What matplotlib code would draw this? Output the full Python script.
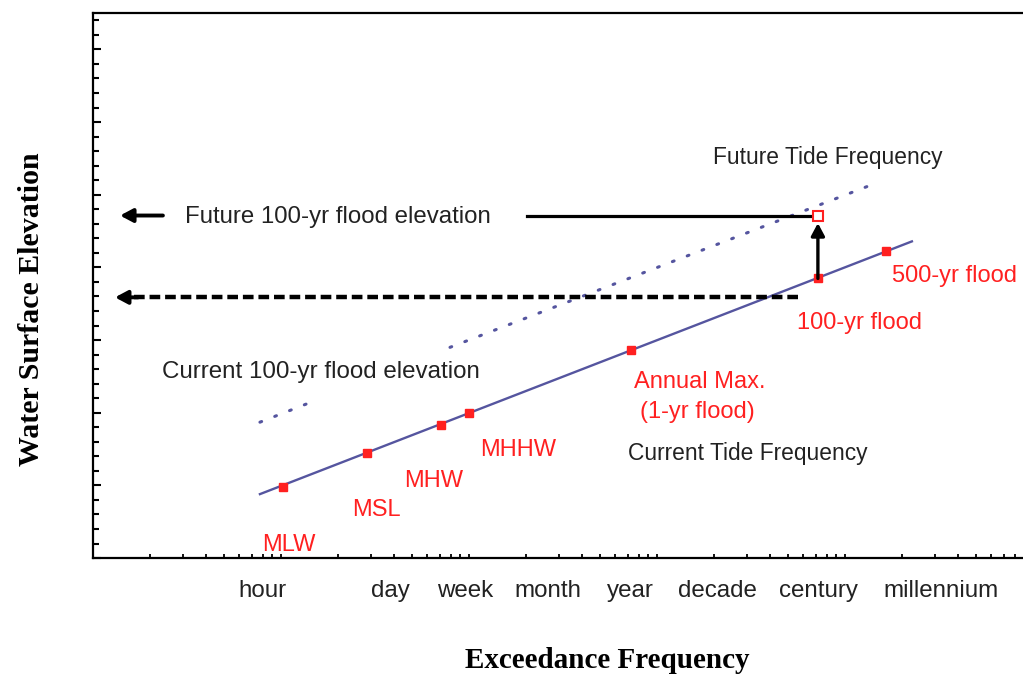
import numpy as np
import matplotlib
matplotlib.use('Agg')
import matplotlib.pyplot as plt
from matplotlib.ticker import FixedLocator, LogLocator, MultipleLocator, NullFormatter

# x values are given as decades (log10 of exceedance period)
periods = ['hour', 'day', 'week', 'month', 'year', 'decade', 'century', 'millennium']
period_logx = [0.90, 1.58, 1.98, 2.42, 2.86, 3.32, 3.86, 4.51]

tide_line_logx = [0.888, 4.356]
tide_line_y = [4.40, 21.79]

future_seg1_logx = [0.888, 1.20]
future_seg1_y = [9.35, 10.93]
future_seg2_logx = [1.899, 4.133]
future_seg2_y = [14.50, 25.64]

point_names = ['MLW', 'MSL', 'MHW', 'MHHW', 'Annual Max.', '100-yr flood', '500-yr flood']
point_logx = [1.011, 1.457, 1.851, 2.0, 2.862, 3.856, 4.218]
point_y = [4.88, 7.22, 9.14, 9.97, 14.30, 19.24, 21.10]

future_100_logx = 3.856
future_100_y = 23.57
current_100_arrow_y = 17.94

red = '#ff2020'
blue = '#55559f'
dark = '#222222'

def X(v):
    return 10 ** np.asarray(v, dtype=float)

fig = plt.figure(figsize=(10.23, 6.74), dpi=100)
ax = fig.add_axes([0.0909, 0.172, 0.9091, 0.8086])
ax.set_xscale('log')
ax.set_xlim(1, 10 ** 4.947)
ax.set_ylim(0, 37.5)

# tide frequency lines
ax.plot(X(tide_line_logx), tide_line_y, color=blue, lw=1.7)
ax.plot(X(future_seg1_logx), future_seg1_y, color=blue, lw=2.2, ls=(0, (0.6, 4.6)),
        dash_capstyle='round')
ax.plot(X(future_seg2_logx), future_seg2_y, color=blue, lw=2.2, ls=(0, (0.6, 4.6)),
        dash_capstyle='round')

ax.plot(X(point_logx), point_y, ls='none', marker='s', ms=6, color=red, mec=red)

# future 100-yr elevation
ax.plot(X([2.309, future_100_logx]), [future_100_y, future_100_y], color='black', lw=2.3)
ax.annotate('', xy=(X(0.144), future_100_y), xytext=(X(0.372), future_100_y),
            arrowprops=dict(arrowstyle='-|>,head_length=0.75,head_width=0.4',
                            color='black', lw=2.8, shrinkA=0, shrinkB=0))
ax.annotate('', xy=(X(future_100_logx), 23.05), xytext=(X(future_100_logx), point_y[5]),
            arrowprops=dict(arrowstyle='-|>,head_length=0.75,head_width=0.4',
                            color='black', lw=2.4, shrinkA=0, shrinkB=0))
ax.plot(X(future_100_logx), future_100_y, ls='none', marker='s', ms=6.5,
        mfc='white', mec=red, mew=1.5)

# current 100-yr elevation (dashed)
ax.plot(X([3.75, 0.21]), [current_100_arrow_y, current_100_arrow_y], color='black',
        lw=3.2, ls=(0, (2.4, 1.1)))
ax.annotate('', xy=(X(0.117), current_100_arrow_y), xytext=(X(0.24), current_100_arrow_y),
            arrowprops=dict(arrowstyle='-|>,head_length=0.75,head_width=0.4',
                            color='black', lw=2.8, shrinkA=0, shrinkB=0))

# text
font = 'Liberation Sans'
ax.text(X(3.298), 27.56, 'Future Tide Frequency', color=dark, fontsize=16.4,
        family=font, va='center')
ax.text(X(0.489), 23.5, 'Future 100-yr flood elevation', color=dark, fontsize=17.3,
        family=font, va='center')
ax.text(X(0.367), 12.78, 'Current 100-yr flood elevation', color=dark, fontsize=17.4,
        family=font, va='center')
ax.text(X(2.846), 7.22, 'Current Tide Frequency', color=dark, fontsize=16.4,
        family=font, va='center')

label_pos = [(0.899, 0.89), (1.378, 3.30), (1.654, 5.29), (2.059, 7.42),
             (2.878, 12.10), (3.745, 16.15), (4.25, 19.38)]
for name, (lx, ly) in zip(point_names, label_pos):
    ax.text(X(lx), ly, name, color=red, fontsize=17, family=font, va='center')
ax.text(X(2.910), 10.03, '(1-yr flood)', color=red, fontsize=17, family=font, va='center')

# axes styling
for s in ['left', 'bottom', 'top']:
    ax.spines[s].set_linewidth(1.6)
ax.spines['right'].set_visible(False)

ax.yaxis.set_major_locator(MultipleLocator(5))
ax.yaxis.set_minor_locator(MultipleLocator(1))
ax.yaxis.set_major_formatter(NullFormatter())
ax.tick_params(axis='y', which='major', direction='in', length=6, width=1.5)
ax.tick_params(axis='y', which='minor', direction='in', length=4, width=1.5)

ax.xaxis.set_major_locator(FixedLocator(X(period_logx)))
ax.set_xticklabels(periods, family=font, fontsize=17.4, color=dark)
ax.xaxis.set_minor_locator(LogLocator(base=10, subs=np.arange(1, 10), numticks=20))
ax.xaxis.set_minor_formatter(NullFormatter())
ax.tick_params(axis='x', which='major', length=0, pad=16)
ax.tick_params(axis='x', which='minor', direction='in', length=3, width=1.3)

ax.set_xlabel('Exceedance Frequency', family='Liberation Serif', fontweight='bold',
              fontsize=21)
ax.xaxis.set_label_coords(0.553, -0.163)
ax.set_ylabel('Water Surface Elevation', family='Liberation Serif', fontweight='bold',
              fontsize=21.5)
ax.yaxis.set_label_coords(-0.052, 0.457)

fig.savefig('out.png', dpi=100)
